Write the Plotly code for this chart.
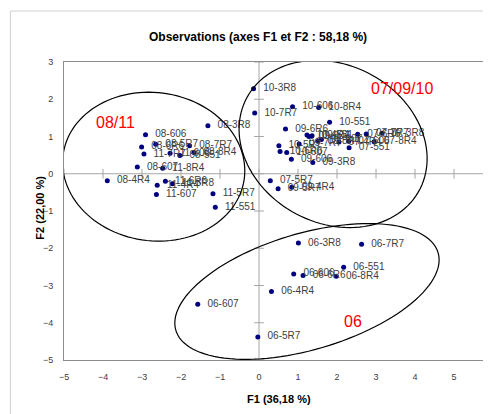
import numpy as np
import plotly.graph_objects as go

# ---- data (F1, F2 coordinates of observations) ----
labels_0811 = ["08-3R8", "08-606", "08-5R7", "08-6R6", "08-7R7", "08-8R4", "08-551", "08-607", "08-4R4",
               "11-7R7", "11-606", "11-8R4", "11-6R6", "11-4R4", "11-3R8", "11-607", "11-5R7", "11-551"]
f1_0811 = [-1.31, -2.91, -2.65, -3.01, -1.78, -1.67, -2.03, -3.12, -3.89,
           -2.95, -2.28, -2.47, -2.40, -2.61, -2.22, -2.63, -1.18, -1.12]
f2_0811 = [1.29, 1.05, 0.79, 0.72, 0.75, 0.57, 0.49, 0.18, -0.19,
           0.53, 0.55, 0.15, -0.20, -0.31, -0.27, -0.56, -0.54, -0.90]

labels_070910 = ["10-3R8", "10-7R7", "10-606", "10-8R4", "10-551", "10-5R7", "10-6R6", "10-607", "10-4R4",
                 "09-6R6", "09-606", "09-3R8", "09-7R7", "09-607", "09-551", "09-8R4", "09-5R7", "09-4R4",
                 "07-3R8", "07-8R4", "07-551", "07-5R7", "07-6R6", "07-7R7", "07-4R4", "07-606", "07-607"]
f1_070910 = [-0.14, -0.11, 0.86, 1.53, 1.81, 0.51, 0.54, 0.71, 1.23,
             0.68, 0.83, 1.38, 1.03, 1.28, 1.36, 1.51, 0.49, 0.84,
             3.15, 2.95, 2.31, 0.29, 2.53, 2.75, 2.05, 2.30, 1.60]
f2_070910 = [2.28, 1.63, 1.80, 1.78, 1.38, 0.75, 0.60, 0.57, 1.04,
             1.20, 0.39, 0.30, 0.80, 1.00, 1.02, 0.87, -0.40, -0.36,
             1.09, 0.86, 0.70, -0.19, 1.06, 1.07, 0.85, 0.87, 0.92]

labels_06 = ["06-3R8", "06-7R7", "06-551", "06-606", "06-6R6", "06-8R4", "06-4R4", "06-607", "06-5R7"]
f1_06 = [1.01, 2.63, 2.17, 0.89, 1.13, 1.98, 0.32, -1.57, -0.03]
f2_06 = [-1.86, -1.89, -2.51, -2.69, -2.73, -2.75, -3.16, -3.50, -4.38]

x_ticks = [-5, -4, -3, -2, -1, 0, 1, 2, 3, 4, 5, 6]
y_ticks = [-5, -4, -3, -2, -1, 0, 1, 2, 3]

group_names = ["08/11", "07/09/10", "06"]
group_label_pos = [(-3.69, 1.37), (3.66, 2.28), (2.42, -3.97)]
# ellipse: center, conjugate semi-axis vectors (data units)
group_ellipses = [
    ((-2.70, 0.19), (2.32, -0.34), (-0.27, -1.97)),
    ((1.90, 0.80), (2.18, -1.30), (-1.03, -1.83)),
    ((1.23, -3.16), (3.36, 1.05), (0.44, -1.49)),
]

labels = labels_0811 + labels_070910 + labels_06
f1 = f1_0811 + f1_070910 + f1_06
f2 = f2_0811 + f2_070910 + f2_06

fig = go.Figure()

# zero-line tick marks
fig.add_trace(go.Scatter(x=x_ticks, y=[0] * len(x_ticks), mode="markers", hoverinfo="skip",
                         marker=dict(symbol="line-ns", size=7, line=dict(color="#a6a6a6", width=1)),
                         showlegend=False))
fig.add_trace(go.Scatter(x=[0] * len(y_ticks), y=y_ticks, mode="markers", hoverinfo="skip",
                         marker=dict(symbol="line-ew", size=7, line=dict(color="#a6a6a6", width=1)),
                         showlegend=False))

fig.add_trace(go.Scatter(
    x=f1, y=f2, mode="markers+text", text=labels,
    texttemplate="  %{text}",
    textposition="middle right",
    textfont=dict(family="Liberation Sans, Arial", size=10, color="#404040"),
    marker=dict(size=5, color="#000080"),
    showlegend=False, cliponaxis=False))

shapes = []
# zero lines
shapes.append(dict(type="line", xref="x", yref="y", x0=-5, x1=6, y0=0, y1=0,
                   line=dict(color="#a6a6a6", width=1), layer="below"))
shapes.append(dict(type="line", xref="x", yref="y", x0=0, x1=0, y0=-5, y1=3,
                   line=dict(color="#a6a6a6", width=1), layer="below"))
t = np.linspace(0, 2 * np.pi, 120)
for (c, u, v) in group_ellipses:
    ex = c[0] + u[0] * np.cos(t) + v[0] * np.sin(t)
    ey = c[1] + u[1] * np.cos(t) + v[1] * np.sin(t)
    path = "M " + " L ".join(f"{a:.4f},{b:.4f}" for a, b in zip(ex, ey)) + " Z"
    shapes.append(dict(type="path", xref="x", yref="y", path=path,
                       line=dict(color="#000000", width=1.2)))
# outer chart border
shapes.append(dict(type="rect", xref="paper", yref="paper", x0=-0.125, x1=1.3, y0=-0.5, y1=1.171,
                   line=dict(color="#d0d0d0", width=1)))

annotations = []
for name, (gx, gy) in zip(group_names, group_label_pos):
    annotations.append(dict(x=gx, y=gy, xref="x", yref="y", text=name, showarrow=False,
                            font=dict(family="Liberation Sans, Arial", size=16, color="#ff0000")))
annotations.append(dict(x=0.453, y=1.114, xref="paper", yref="paper", showarrow=False,
                        text="<b>Observations (axes F1 et F2 : 58,18 %)</b>",
                        font=dict(family="Liberation Sans, Arial", size=12, color="#000000")))
annotations.append(dict(x=0.5, y=-0.158, xref="paper", yref="paper", showarrow=False,
                        text="<b>F1 (36,18 %)</b>",
                        font=dict(family="Liberation Sans, Arial", size=11, color="#000000")))
annotations.append(dict(x=-0.0755, y=0.51, xref="paper", yref="paper", showarrow=False, textangle=-90,
                        text="<b>F2 (22,00 %)</b>",
                        font=dict(family="Liberation Sans, Arial", size=11, color="#000000")))

fig.update_layout(
    width=491, height=414,
    margin=dict(l=56, r=3, t=54, b=62),
    paper_bgcolor="white", plot_bgcolor="white",
    shapes=shapes, annotations=annotations,
    xaxis=dict(range=[-5, 6], tickvals=x_ticks, ticks="", showgrid=False, zeroline=False,
               showline=True, mirror=True, linecolor="#8c8c8c", linewidth=1,
               tickfont=dict(family="Liberation Sans, Arial", size=9, color="#404040"),
               ticklabelstandoff=8),
    yaxis=dict(range=[-5, 3], tickvals=y_ticks, ticks="", showgrid=False, zeroline=False,
               showline=True, mirror=True, linecolor="#8c8c8c", linewidth=1,
               tickfont=dict(family="Liberation Sans, Arial", size=9, color="#404040"),
               ticklabelstandoff=8),
)

fig.write_html("out.html")
